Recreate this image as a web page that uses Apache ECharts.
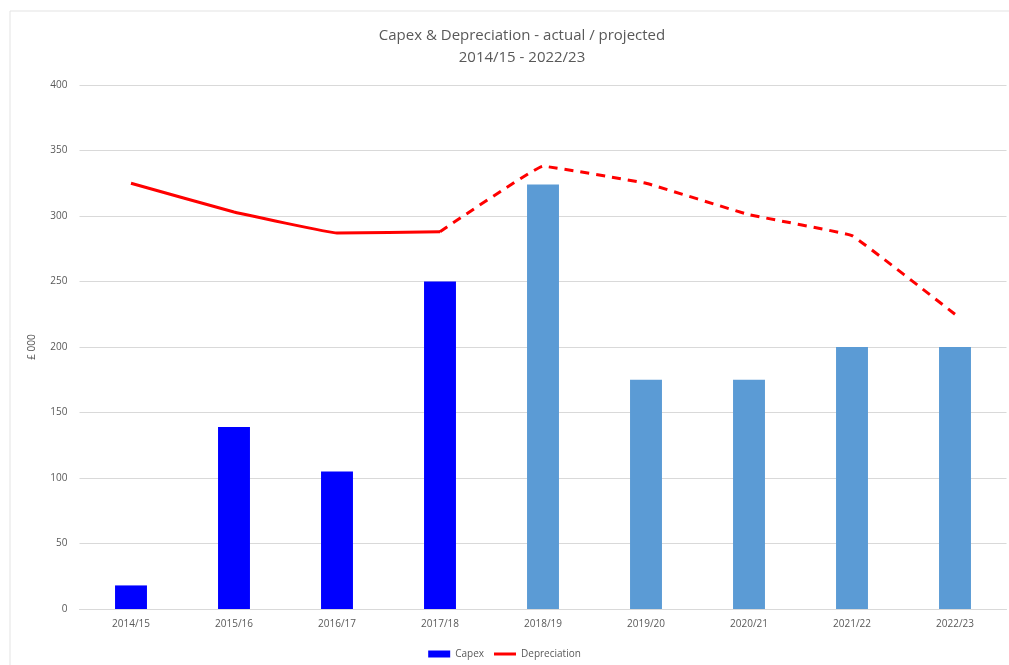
<!DOCTYPE html>
<html>
<head>
<meta charset="utf-8">
<script src="https://cdn.jsdelivr.net/npm/echarts@6/dist/echarts.min.js"></script>
<style>
html,body{margin:0;padding:0;background:#fff;}
#chart{width:1009px;height:665px;}
</style>
</head>
<body>
<div id="chart"></div>
<script>
const categories = ['2014/15','2015/16','2016/17','2017/18','2018/19','2019/20','2020/21','2021/22','2022/23'];
const capex = [18, 139, 105, 250, 324, 175, 175, 200, 200];
const depreciation = [325, 303, 287, 288, 338, 325, 301, 285, 225];
const actualYears = 4; // first 4 years actual, rest projected
const yTicks = [0, 50, 100, 150, 200, 250, 300, 350, 400];

const FONT = 'Open Sans, Liberation Sans, sans-serif';
const chart = echarts.init(document.getElementById('chart'), null, {renderer: 'canvas'});

const barData = capex.map((v, i) => ({
  value: v,
  itemStyle: { color: i < actualYears ? '#0000FF' : '#5B9BD5' }
}));
const depActual = depreciation.map((v, i) => i < actualYears ? v : '-');
const depProjected = depreciation.map((v, i) => i >= actualYears - 1 ? v : '-');

chart.setOption({
  animation: false,
  backgroundColor: '#fff',
  graphic: [{
    type: 'rect', silent: true, z: -1,
    shape: { x: 10, y: 11, width: 1100, height: 700 },
    style: { fill: 'none', stroke: '#e3e3e3', lineWidth: 1 }
  }],
  title: {
    text: 'Capex & Depreciation - actual / projected\n2014/15 - 2022/23',
    left: 517, textAlign: 'center', top: 20,
    textStyle: { fontFamily: FONT, fontSize: 15, fontWeight: 'normal', color: '#595959', lineHeight: 22 }
  },
  legend: {
    data: [
      { name: 'Capex', icon: 'rect' },
      { name: 'Depreciation', icon: 'path://M0,0 L22,0 L22,3 L0,3 Z' }
    ],
    top: 644, left: 'center',
    itemWidth: 22, itemHeight: 7, itemGap: 10,
    textStyle: { fontFamily: FONT, fontSize: 10, color: '#595959' }
  },
  grid: { left: 79.5, right: 2.5, top: 85, bottom: 56, containLabel: false },
  xAxis: {
    type: 'category',
    data: categories,
    axisLine: { lineStyle: { color: '#d9d9d9', width: 1 } },
    axisTick: { show: false },
    axisLabel: { fontFamily: FONT, fontSize: 10, color: '#595959', margin: 10 }
  },
  yAxis: {
    type: 'value',
    min: 0, max: 400, interval: 50,
    name: '£ 000',
    nameLocation: 'middle', nameGap: 42, nameRotate: 90,
    nameTextStyle: { fontFamily: FONT, fontSize: 10, color: '#595959' },
    axisLine: { show: false },
    axisTick: { show: false },
    axisLabel: {
      fontFamily: FONT, fontSize: 10, color: '#595959', margin: 12,
      formatter: v => yTicks.includes(v) ? String(v) : ''
    },
    splitLine: { lineStyle: { color: '#d9d9d9', width: 1 } }
  },
  series: [
    {
      name: 'Capex', type: 'bar', data: barData,
      barWidth: '31%',
      itemStyle: { color: '#0000FF' }
    },
    {
      name: 'Depreciation', type: 'line', data: depActual,
      symbol: 'none', smooth: 0.06,
      lineStyle: { color: '#FF0000', width: 3 },
      itemStyle: { color: '#FF0000' }
    },
    {
      name: 'Depreciation', type: 'line', data: depProjected,
      symbol: 'none', smooth: 0.06,
      lineStyle: { color: '#FF0000', width: 3, type: [9, 7] },
      itemStyle: { color: '#FF0000' }
    }
  ]
});
</script>
</body>
</html>
